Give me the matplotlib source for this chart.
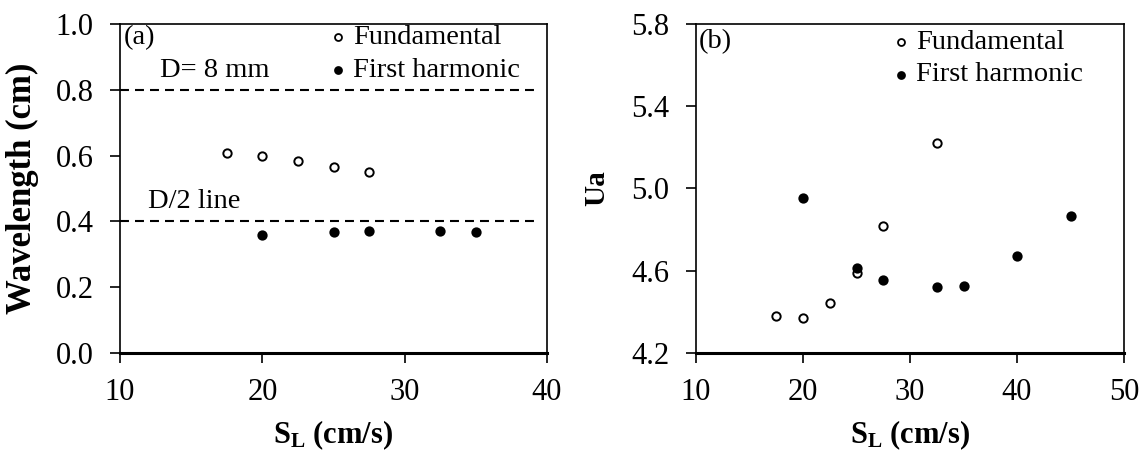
import matplotlib
matplotlib.use("Agg")
import matplotlib.pyplot as plt

plt.rcParams['font.family'] = ['Liberation Serif', 'DejaVu Serif']
plt.rcParams['mathtext.fontset'] = 'custom'
plt.rcParams['mathtext.rm'] = 'Liberation Serif'
plt.rcParams['mathtext.bf'] = 'Liberation Serif:bold'

# Panel (a) data
a_fund_x = [17.5, 20, 22.5, 25, 27.5]
a_fund_y = [0.609, 0.598, 0.585, 0.565, 0.551]
a_harm_x = [20, 25, 27.5, 32.5, 35]
a_harm_y = [0.360, 0.369, 0.372, 0.372, 0.367]
ref_lines = [0.8, 0.4]

# Panel (b) data
b_fund_x = [17.5, 20, 22.5, 25, 27.5, 32.5]
b_fund_y = [4.379, 4.368, 4.444, 4.588, 4.816, 5.223]
b_harm_x = [20, 25, 27.5, 32.5, 35, 40, 45]
b_harm_y = [4.955, 4.612, 4.556, 4.520, 4.526, 4.670, 4.866]

fig = plt.figure(figsize=(11.44, 4.59), dpi=100)
W, H = 1144, 459
axa = fig.add_axes([120 / W, 1 - 353 / H, (547 - 120) / W, (353 - 24) / H])
axb = fig.add_axes([696 / W, 1 - 353 / H, (1124 - 696) / W, (353 - 24) / H])

fs_tick = 22
fs_lab = 22
fs_leg = 20.5

def style(ax):
    for s in ax.spines.values():
        s.set_linewidth(1.2)
    ax.spines['bottom'].set_linewidth(2.2)
    ax.tick_params(direction='out', length=7, width=1.2, labelsize=fs_tick)
    ax.tick_params(axis='y', pad=12)
    ax.tick_params(axis='x', pad=11)

def legend(ax, mx, tx, y1, y2):
    ax.plot([mx], [y1], 'o', ms=5, mfc='white', mec='black', mew=1.3,
            transform=ax.transAxes, clip_on=False)
    ax.plot([mx], [y2], 'o', ms=5, mfc='black', mec='black', mew=1.3,
            transform=ax.transAxes, clip_on=False)
    ax.text(tx, y1, 'Fundamental', transform=ax.transAxes, fontsize=fs_leg,
            va='center', ha='left')
    ax.text(tx, y2, 'First harmonic', transform=ax.transAxes, fontsize=fs_leg,
            va='center', ha='left')

dash = (0, (4.3, 2.9))

# (a)
for yv in ref_lines:
    axa.axhline(yv, xmin=0, xmax=(39.1 - 10) / 30, color='black', ls=dash, lw=1.5)
axa.plot(a_fund_x, a_fund_y, 'o', ms=6, mfc='white', mec='black', mew=1.4, ls='none')
axa.plot(a_harm_x, a_harm_y, 'o', ms=6, mfc='black', mec='black', mew=1.4, ls='none')
axa.set_xlim(10, 40)
axa.set_ylim(0, 1.0)
axa.set_xticks([10, 20, 30, 40])
ya = [0.0, 0.2, 0.4, 0.6, 0.8, 1.0]
axa.set_yticks(ya)
axa.set_yticklabels([f"{v:.1f}" for v in ya])
axa.set_xlabel(r'$\mathbf{S_L}$ (cm/s)', fontsize=fs_lab, fontweight='bold')
axa.set_ylabel('Wavelength (cm)', fontsize=25, fontweight='bold')
axa.xaxis.set_label_coords(0.5, -0.2)
axa.yaxis.set_label_coords(-0.19, 0.5)
axa.text(0.008, 0.96, '(a)', transform=axa.transAxes, fontsize=fs_leg, va='center', ha='left')
axa.text(12.8, 0.86, 'D= 8 mm', fontsize=fs_leg, va='center', ha='left')
axa.text(11.95, 0.459, 'D/2 line', fontsize=fs_leg, va='center', ha='left')
legend(axa, 0.511, 0.546, 0.960, 0.860)
style(axa)

# (b)
axb.plot(b_fund_x, b_fund_y, 'o', ms=6, mfc='white', mec='black', mew=1.4, ls='none')
axb.plot(b_harm_x, b_harm_y, 'o', ms=6, mfc='black', mec='black', mew=1.4, ls='none')
axb.set_xlim(10, 50)
axb.set_ylim(4.2, 5.8)
axb.set_xticks([10, 20, 30, 40, 50])
yb = [4.2, 4.6, 5.0, 5.4, 5.8]
axb.set_yticks(yb)
axb.set_yticklabels([f"{v:.1f}" for v in yb])
axb.set_xlabel(r'$\mathbf{S_L}$ (cm/s)', fontsize=fs_lab, fontweight='bold')
axb.set_ylabel('Ua', fontsize=21, fontweight='bold')
axb.xaxis.set_label_coords(0.5, -0.2)
axb.yaxis.set_label_coords(-0.2, 0.5)
axb.text(0.006, 0.945, '(b)', transform=axb.transAxes, fontsize=fs_leg, va='center', ha='left')
legend(axb, 0.479, 0.514, 0.945, 0.845)
style(axb)

fig.savefig('out.png', dpi=100)
